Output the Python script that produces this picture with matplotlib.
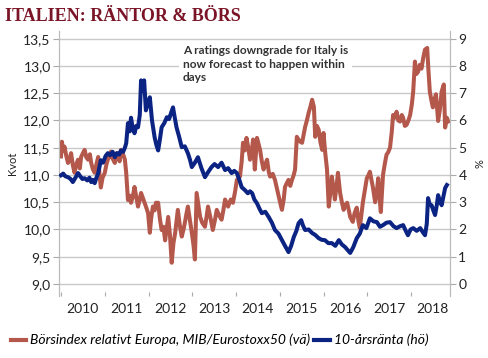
import matplotlib
matplotlib.use("Agg")
import matplotlib.pyplot as plt
from matplotlib.lines import Line2D

# ---- data (decimal years) ----
red_t = [2010.00, 2010.02, 2010.05, 2010.08, 2010.12, 2010.16, 2010.20, 2010.23, 2010.27, 2010.31,
         2010.35, 2010.39, 2010.43, 2010.46, 2010.50, 2010.54, 2010.58, 2010.62, 2010.66, 2010.69,
         2010.73, 2010.77, 2010.81, 2010.85, 2010.88, 2010.91, 2010.95, 2011.00, 2011.04, 2011.07,
         2011.11, 2011.14, 2011.18, 2011.23, 2011.27, 2011.30, 2011.34, 2011.37, 2011.42, 2011.46,
         2011.49, 2011.53, 2011.57, 2011.60, 2011.64, 2011.68, 2011.72, 2011.76, 2011.80, 2011.83,
         2011.87, 2011.91, 2011.95, 2011.99, 2012.03, 2012.06, 2012.10, 2012.14, 2012.17, 2012.22,
         2012.26, 2012.30, 2012.34, 2012.38, 2012.42, 2012.45, 2012.49, 2012.53, 2012.57, 2012.61,
         2012.64, 2012.67, 2012.72, 2012.76, 2012.80, 2012.83, 2012.87, 2012.90, 2012.95, 2012.99,
         2013.03, 2013.06, 2013.10, 2013.14, 2013.18, 2013.23, 2013.29, 2013.33, 2013.36, 2013.42,
         2013.47, 2013.52, 2013.56, 2013.62, 2013.67, 2013.71, 2013.75, 2013.82, 2013.88, 2013.93,
         2013.98, 2014.02, 2014.09, 2014.13, 2014.16, 2014.20, 2014.24, 2014.28, 2014.32, 2014.36,
         2014.39, 2014.43, 2014.48, 2014.52, 2014.55, 2014.59, 2014.63, 2014.67, 2014.71, 2014.75,
         2014.78, 2014.84, 2014.89, 2014.95, 2015.01, 2015.05, 2015.09, 2015.12, 2015.16, 2015.20,
         2015.24, 2015.28, 2015.32, 2015.35, 2015.39, 2015.45, 2015.51, 2015.55, 2015.58, 2015.62,
         2015.66, 2015.70, 2015.74, 2015.78, 2015.81, 2015.85, 2015.89, 2015.93, 2015.97, 2016.00,
         2016.04, 2016.08, 2016.12, 2016.16, 2016.19, 2016.23, 2016.26, 2016.30, 2016.33, 2016.38,
         2016.42, 2016.46, 2016.50, 2016.54, 2016.58, 2016.61, 2016.67, 2016.71, 2016.76, 2016.80,
         2016.83, 2016.87, 2016.90, 2016.95, 2016.99, 2017.03, 2017.06, 2017.10, 2017.13, 2017.18,
         2017.22, 2017.25, 2017.28, 2017.31, 2017.36, 2017.40, 2017.44, 2017.48, 2017.52, 2017.56,
         2017.59, 2017.63, 2017.67, 2017.71, 2017.75, 2017.79, 2017.82, 2017.86, 2017.90, 2017.94,
         2017.98, 2018.02, 2018.05, 2018.09, 2018.12, 2018.16, 2018.20, 2018.24, 2018.28, 2018.32,
         2018.37, 2018.40, 2018.43, 2018.47, 2018.50, 2018.54, 2018.57, 2018.62, 2018.66, 2018.70,
         2018.75, 2018.78, 2018.82, 2018.85]
red_v = [11.34, 11.61, 11.45, 11.52, 11.35, 11.22, 11.30, 11.40, 11.18, 11.04,
         11.20, 11.28, 11.12, 11.33, 11.40, 11.46, 11.32, 11.28, 11.38, 11.22,
         11.10, 11.04, 11.20, 11.33, 11.00, 10.77, 10.95, 11.04, 11.20, 11.28,
         11.35, 11.43, 11.30, 11.22, 11.40, 11.33, 11.25, 11.46, 11.38, 11.28,
         11.04, 10.54, 10.62, 10.49, 10.60, 10.78, 10.60, 10.42, 10.55, 10.67,
         10.58, 10.49, 10.40, 10.30, 9.94, 10.20, 10.42, 10.35, 10.49, 10.49,
         10.20, 9.99, 10.05, 9.80, 10.05, 10.23, 9.90, 9.39, 9.75, 9.94,
         10.15, 10.36, 10.05, 9.87, 10.00, 10.12, 10.30, 10.42, 10.15, 9.94,
         9.70, 9.45, 10.67, 10.45, 10.23, 10.12, 10.05, 10.25, 10.42, 10.20,
         9.99, 10.18, 10.36, 10.25, 10.18, 10.35, 10.55, 10.42, 10.55, 10.49,
         10.70, 10.91, 10.97, 11.25, 11.59, 11.45, 11.68, 11.50, 11.28, 11.45,
         11.65, 11.10, 11.68, 11.55, 11.46, 11.25, 11.10, 11.20, 11.28, 11.05,
         10.97, 11.02, 10.91, 10.70, 10.49, 10.36, 10.55, 10.78, 10.85, 10.91,
         10.80, 10.91, 11.00, 11.10, 11.70, 11.62, 11.59, 11.75, 11.88, 12.00,
         12.14, 12.25, 12.38, 12.25, 11.70, 11.90, 11.83, 11.60, 11.46, 11.77,
         11.40, 11.10, 10.42, 10.70, 10.97, 10.75, 10.55, 10.80, 11.04, 10.67,
         10.50, 10.36, 10.45, 10.49, 10.35, 10.23, 10.14, 10.30, 10.40, 10.15,
         10.03, 10.30, 10.50, 10.75, 10.94, 11.00, 11.06, 10.90, 10.77, 10.50,
         10.70, 10.94, 10.60, 10.32, 11.00, 11.20, 11.37, 11.42, 11.50, 11.79,
         12.10, 12.05, 12.16, 12.00, 11.98, 12.10, 12.05, 11.90, 11.92, 12.00,
         12.10, 12.30, 12.53, 13.08, 12.85, 12.89, 13.02, 12.95, 13.15, 13.30,
         13.33, 12.90, 12.53, 12.35, 12.24, 12.40, 12.48, 11.99, 12.20, 12.53,
         12.66, 11.87, 12.05, 11.98]

blue_t = [2010.00, 2010.05, 2010.10, 2010.16, 2010.22, 2010.27, 2010.33, 2010.39, 2010.44, 2010.49,
          2010.54, 2010.60, 2010.65, 2010.69, 2010.73, 2010.77, 2010.81, 2010.85, 2010.91, 2010.96,
          2011.02, 2011.07, 2011.12, 2011.18, 2011.23, 2011.28, 2011.33, 2011.37, 2011.42, 2011.46,
          2011.49, 2011.53, 2011.57, 2011.60, 2011.64, 2011.68, 2011.72, 2011.76, 2011.80, 2011.83,
          2011.87, 2011.90, 2011.94, 2011.98, 2012.03, 2012.08, 2012.14, 2012.18, 2012.22, 2012.26,
          2012.30, 2012.36, 2012.42, 2012.47, 2012.52, 2012.56, 2012.60, 2012.64, 2012.70, 2012.76,
          2012.83, 2012.90, 2012.95, 2012.99, 2013.06, 2013.13, 2013.21, 2013.29, 2013.36, 2013.44,
          2013.51, 2013.59, 2013.67, 2013.75, 2013.82, 2013.90, 2013.96, 2014.02, 2014.08, 2014.13,
          2014.20, 2014.27, 2014.32, 2014.37, 2014.42, 2014.48, 2014.54, 2014.59, 2014.67, 2014.75,
          2014.82, 2014.89, 2014.97, 2015.05, 2015.12, 2015.20, 2015.26, 2015.32, 2015.38, 2015.43,
          2015.49, 2015.53, 2015.58, 2015.66, 2015.74, 2015.81, 2015.89, 2015.96, 2016.03, 2016.11,
          2016.19, 2016.27, 2016.35, 2016.42, 2016.49, 2016.55, 2016.61, 2016.68, 2016.76, 2016.83,
          2016.90, 2016.98, 2017.06, 2017.14, 2017.22, 2017.29, 2017.36, 2017.44, 2017.52, 2017.60,
          2017.67, 2017.75, 2017.82, 2017.88, 2017.93, 2017.99, 2018.05, 2018.13, 2018.21, 2018.27,
          2018.32, 2018.36, 2018.39, 2018.43, 2018.47, 2018.51, 2018.55, 2018.59, 2018.62, 2018.66,
          2018.70, 2018.74, 2018.78, 2018.82]
blue_v = [3.99, 4.05, 3.95, 3.92, 3.85, 3.74, 3.90, 4.07, 3.95, 3.85,
          3.88, 3.80, 3.90, 3.74, 3.82, 3.70, 3.90, 4.07, 4.54, 4.45,
          4.70, 4.80, 4.72, 4.85, 4.65, 4.80, 4.75, 4.90, 4.85, 5.00,
          5.16, 5.90, 5.60, 6.10, 5.70, 5.53, 5.80, 5.75, 6.20, 7.47,
          7.10, 7.47, 6.37, 6.60, 6.85, 6.00, 5.38, 5.10, 4.90, 5.30,
          5.75, 5.90, 6.12, 6.05, 6.30, 6.48, 6.10, 5.75, 5.40, 5.02,
          5.05, 4.80, 4.55, 4.29, 4.45, 4.65, 4.25, 3.92, 4.10, 4.29,
          4.40, 4.29, 4.45, 4.18, 4.25, 4.07, 4.15, 4.07, 3.80, 3.55,
          3.45, 3.33, 3.40, 3.33, 3.10, 2.96, 2.75, 2.60, 2.65, 2.45,
          2.25, 1.98, 1.85, 1.61, 1.40, 1.17, 1.40, 1.72, 1.95, 2.23,
          2.34, 2.15, 1.98, 2.00, 1.87, 1.80, 1.68, 1.62, 1.61, 1.50,
          1.50, 1.40, 1.61, 1.45, 1.36, 1.25, 1.14, 1.35, 1.68, 1.85,
          2.16, 2.05, 2.41, 2.30, 2.27, 2.10, 2.16, 2.25, 2.27, 2.12,
          2.05, 2.12, 2.16, 1.95, 1.79, 2.00, 2.05, 1.95, 2.05, 1.90,
          1.79, 2.20, 3.15, 2.90, 2.89, 2.70, 2.53, 2.90, 3.26, 3.05,
          2.89, 3.20, 3.52, 3.63]

years = [2010, 2011, 2012, 2013, 2014, 2015, 2016, 2017, 2018]
left_ticks = [9.0, 9.5, 10.0, 10.5, 11.0, 11.5, 12.0, 12.5, 13.0, 13.5]
right_ticks = [0, 1, 2, 3, 4, 5, 6, 7, 8, 9]

title = "ITALIEN: RÄNTOR & BÖRS"
note = "A ratings downgrade for Italy is\nnow forecast to happen within\ndays"
red_label = "Börsindex relativt Europa, MIB/Eurostoxx50 (vä)"
blue_label = "10-årsränta (hö)"

RED = "#B5584C"
BLUE = "#0B2383"
GRID = "#C9C9C9"
FONT = "Lato"

fig = plt.figure(figsize=(4.88, 3.58), dpi=100)
ax = fig.add_axes([0.1209, 0.1732, 0.8012, 0.7416])
ax2 = ax.twinx()

ylo, yhi = 8.78, 13.65
ax.set_ylim(ylo, yhi)
ax2.set_ylim((ylo - 9) * 2, (yhi - 9) * 2)
ax.set_xlim(2009.954, 2018.891)

for y in left_ticks:
    ax.axhline(y, color=GRID, lw=1.0, zorder=0)

ax.plot(red_t, red_v, color=RED, lw=2.9, solid_joinstyle="round", zorder=3)
ax2.plot(blue_t, blue_v, color=BLUE, lw=2.9, solid_joinstyle="round", zorder=3)

ax.set_yticks(left_ticks)
ax.set_yticklabels([f"{v:.1f}".replace(".", ",") for v in left_ticks], fontfamily=FONT, fontsize=10, color="#222222")
ax2.set_yticks(right_ticks)
ax2.set_yticklabels([str(v) for v in right_ticks], fontfamily=FONT, fontsize=10, color="#222222")

ax.set_xticks([float(y) for y in years])
ax.set_xticklabels([])
ax.set_xticks([y + 0.5 for y in years], minor=True)
ax.set_xticklabels([str(y) for y in years], minor=True, fontfamily=FONT, fontsize=10, color="#222222")
ax.tick_params(axis="x", which="major", direction="in", length=3, color="#AAAAAA")
ax.tick_params(axis="x", which="minor", length=0, pad=5)
ax.tick_params(axis="y", direction="out", length=4, color="#AAAAAA", pad=2)
ax2.tick_params(axis="y", direction="out", length=4, color="#AAAAAA", pad=2)

for a in (ax, ax2):
    a.spines["top"].set_visible(False)
    a.spines["bottom"].set_visible(False)
    a.spines["left"].set_color("#BBBBBB")
    a.spines["right"].set_color("#BBBBBB")
ax2.set_zorder(ax.get_zorder() + 1)
ax.patch.set_visible(False)

ax.set_ylabel("Kvot", fontfamily=FONT, fontsize=8, color="#222222", labelpad=4)
ax2.set_ylabel("%", fontfamily=FONT, fontsize=8, color="#222222", labelpad=6, rotation=90)

fig.text(0.010, 0.955, title, fontfamily="Liberation Serif", fontweight="bold", fontsize=13,
         color="#7A1426", va="center", ha="left")

fig.text(183 / 488, 1 - 45 / 358, note, fontfamily=FONT, fontweight="bold", fontsize=8.6,
         color="#333333", va="top", ha="left", linespacing=1.3, zorder=10,
         bbox=dict(facecolor="white", edgecolor="none", pad=3))

handles = [Line2D([], [], color=RED, lw=3), Line2D([], [], color=BLUE, lw=3)]
fig.legend(handles, [red_label, blue_label], loc="center", bbox_to_anchor=(0.45, 0.05), ncol=2,
           frameon=False, handlelength=1.1, handletextpad=0.3, columnspacing=0.3,
           prop=dict(family=FONT, style="italic", size=10))

fig.savefig("out.png", dpi=100)
